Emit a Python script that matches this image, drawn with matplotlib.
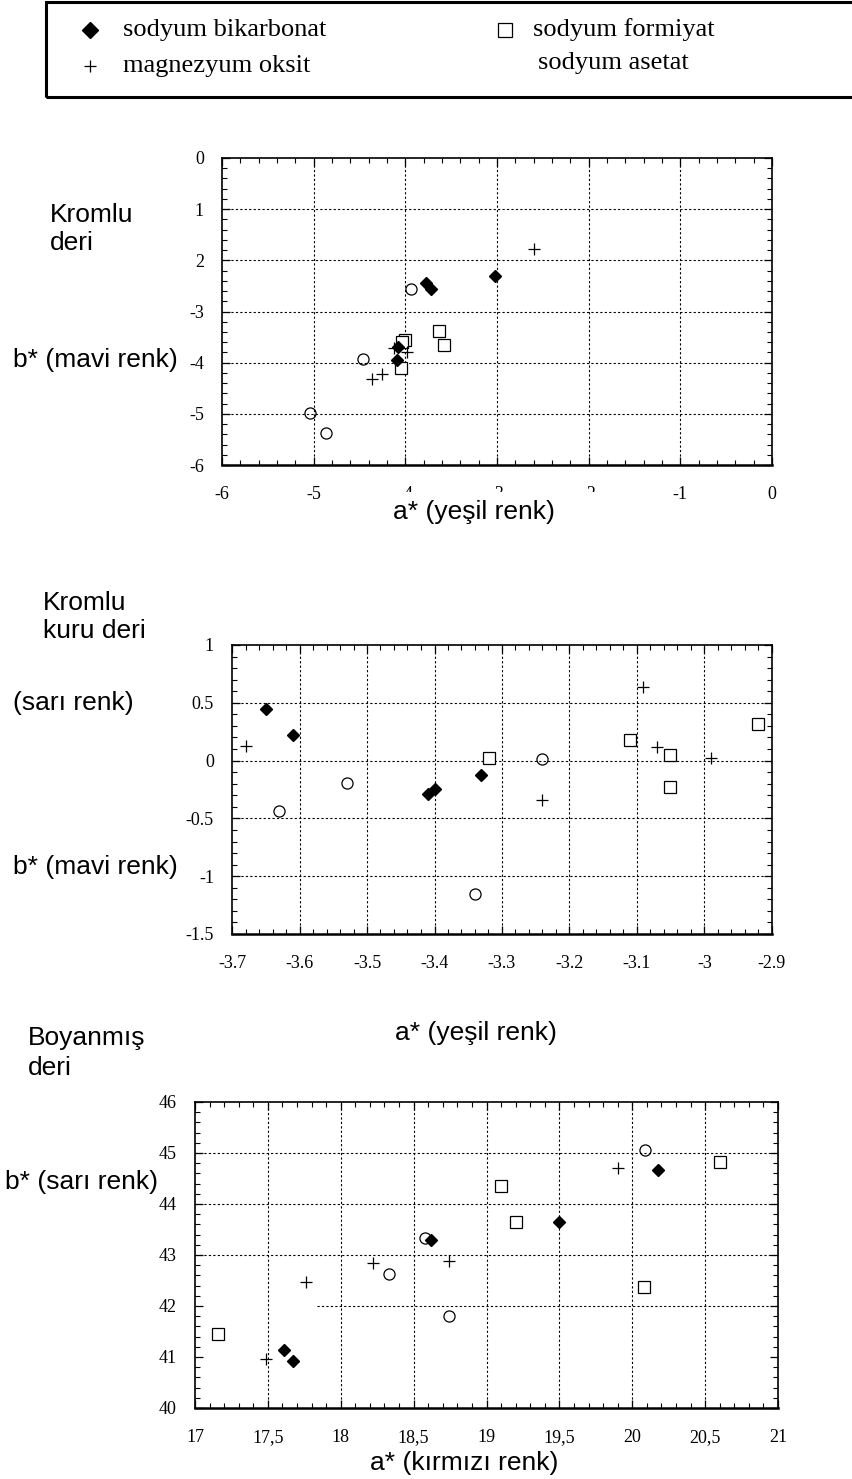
import matplotlib
matplotlib.use("Agg")
import matplotlib.pyplot as plt
from matplotlib.lines import Line2D
from matplotlib.patches import Rectangle
from matplotlib.ticker import FixedLocator, FixedFormatter, MultipleLocator

W, H, DPI = 852, 1479, 100

# ---------------- data ----------------
series_names = ["sodyum bikarbonat", "magnezyum oksit", "sodyum formiyat", "sodyum asetat"]

# Panel 1 : Kromlu deri
p1_bik_a = [-3.77, -3.72, -3.02, -4.08, -4.09]
p1_bik_b = [-2.44, -2.57, -2.31, -3.70, -3.94]
p1_mag_a = [-2.60, -4.12, -3.98, -4.36, -4.25]
p1_mag_b = [-1.77, -3.72, -3.79, -4.31, -4.23]
p1_for_a = [-4.00, -4.04, -3.63, -3.58, -4.05]
p1_for_b = [-3.55, -3.59, -3.39, -3.65, -4.10]
p1_ase_a = [-3.94, -4.46, -5.04, -4.87]
p1_ase_b = [-2.56, -3.92, -4.99, -5.37]
p1_xticks = [-6, -5, -4, -3, -2, -1, 0]
p1_xlabels = ["-6", "-5", "-4", "-3", "-2", "-1", "0"]
p1_yticks = [0, -1, -2, -3, -4, -5, -6]
p1_ylabels = ["0", "1", "2", "-3", "-4", "-5", "-6"]

# Panel 2 : Kromlu kuru deri
p2_bik_a = [-3.650, -3.610, -3.410, -3.400, -3.331]
p2_bik_b = [0.449, 0.220, -0.286, -0.246, -0.126]
p2_mag_a = [-3.680, -3.091, -3.071, -2.991, -3.240]
p2_mag_b = [0.123, 0.638, 0.114, 0.020, -0.340]
p2_for_a = [-3.320, -3.111, -3.051, -3.051, -2.921]
p2_for_b = [0.023, 0.175, 0.046, -0.226, 0.320]
p2_ase_a = [-3.630, -3.530, -3.340, -3.240]
p2_ase_b = [-0.438, -0.197, -1.156, 0.014]
p2_xticks = [-3.7, -3.6, -3.5, -3.4, -3.3, -3.2, -3.1, -3.0, -2.9]
p2_xlabels = ["-3.7", "-3.6", "-3.5", "-3.4", "-3.3", "-3.2", "-3.1", "-3", "-2.9"]
p2_yticks = [1, 0.5, 0, -0.5, -1, -1.5]
p2_ylabels = ["1", "0.5", "0", "-0.5", "-1", "-1.5"]

# Panel 3 : Boyanmis deri
p3_bik_a = [17.61, 17.67, 18.62, 19.50, 20.18]
p3_bik_b = [41.14, 40.93, 43.30, 43.65, 44.66]
p3_mag_a = [17.49, 17.76, 18.22, 18.74, 19.90]
p3_mag_b = [40.97, 42.47, 42.84, 42.88, 44.71]
p3_for_a = [17.16, 19.10, 19.20, 20.08, 20.60]
p3_for_b = [41.46, 44.35, 43.65, 42.37, 44.82]
p3_ase_a = [18.58, 18.33, 18.74, 20.09]
p3_ase_b = [43.33, 42.63, 41.81, 45.05]
p3_xticks = [17, 17.5, 18, 18.5, 19, 19.5, 20, 20.5, 21]
p3_xlabels = ["17", "17,5", "18", "18,5", "19", "19,5", "20", "20,5", "21"]
p3_yticks = [40, 41, 42, 43, 44, 45, 46]
p3_ylabels = ["40", "41", "42", "43", "44", "45", "46"]

# ---------------- styling ----------------
SERIF = "Liberation Serif"
SANS = ["Liberation Sans", "DejaVu Sans"]
TICK_FS = 13
LAB_FS = 19
GRID_KW = dict(color="black", linewidth=0.8, linestyle=(0, (2.0, 2.0)), zorder=1)

MK = {
    "bik": dict(marker="D", markersize=6, markerfacecolor="black", markeredgecolor="black", linestyle="none", zorder=4),
    "mag": dict(marker="+", markersize=9, markeredgecolor="black", markeredgewidth=0.9, linestyle="none", zorder=4),
    "for": dict(marker="s", markersize=8, markerfacecolor="white", markeredgecolor="black", markeredgewidth=0.9, linestyle="none", zorder=3),
    "ase": dict(marker="o", markersize=8, markerfacecolor="none", markeredgecolor="black", markeredgewidth=0.9, linestyle="none", zorder=3),
}

fig = plt.figure(figsize=(W / DPI, H / DPI), dpi=DPI)
fig.patch.set_facecolor("white")


def px_axes(left, top, right, bottom):
    return fig.add_axes([left / W, 1 - bottom / H, (right - left) / W, (bottom - top) / H])


def style(ax, xlim, ylim, xt, xl, yt, yl, xminor, yminor):
    ax.set_xlim(*xlim)
    ax.set_ylim(*ylim)
    ax.xaxis.set_major_locator(FixedLocator(xt))
    ax.xaxis.set_major_formatter(FixedFormatter(xl))
    ax.yaxis.set_major_locator(FixedLocator(yt))
    ax.yaxis.set_major_formatter(FixedFormatter(yl))
    ax.xaxis.set_minor_locator(MultipleLocator(xminor))
    ax.yaxis.set_minor_locator(MultipleLocator(yminor))
    ax.tick_params(which="both", direction="in", top=True, right=True, colors="black",
                   labelsize=TICK_FS, labelfontfamily=SERIF)
    ax.tick_params(which="major", length=6, width=0.9)
    ax.tick_params(which="minor", length=3.5, width=0.8)
    ax.tick_params(axis="x", which="major", pad=15)
    ax.tick_params(axis="y", which="major", pad=13)
    for s in ax.spines.values():
        s.set_linewidth(1.2)
    ax.spines["bottom"].set_linewidth(1.8)


def scatter_all(ax, d):
    ax.plot(d[0], d[1], **MK["bik"])
    ax.plot(d[2], d[3], **MK["mag"])
    ax.plot(d[4], d[5], **MK["for"])
    ax.plot(d[6], d[7], **MK["ase"])


def ftext(x, y, s, **kw):
    kw.setdefault("family", SANS)
    kw.setdefault("fontsize", LAB_FS)
    return fig.text(x / W, 1 - y / H, s, **kw)


# ---------------- panel 1 ----------------
ax1 = px_axes(222, 158, 772, 465)
style(ax1, (-6, 0), (-6, 0), p1_xticks, p1_xlabels, p1_yticks, p1_ylabels, 0.2, 0.2)
for v in p1_xticks[1:-1]:
    ax1.axvline(v, **GRID_KW)
for v in p1_yticks[1:-1]:
    ax1.axhline(v, **GRID_KW)
scatter_all(ax1, [p1_bik_a, p1_bik_b, p1_mag_a, p1_mag_b, p1_for_a, p1_for_b, p1_ase_a, p1_ase_b])

# ---------------- panel 2 ----------------
ax2 = px_axes(232, 645, 772, 934)
style(ax2, (-3.7, -2.9), (-1.5, 1), p2_xticks, p2_xlabels, p2_yticks, p2_ylabels, 0.02, 0.1)
for v in p2_xticks[1:-1]:
    ax2.axvline(v, **GRID_KW)
for v in p2_yticks[1:-1]:
    ax2.axhline(v, **GRID_KW)
scatter_all(ax2, [p2_bik_a, p2_bik_b, p2_mag_a, p2_mag_b, p2_for_a, p2_for_b, p2_ase_a, p2_ase_b])

# ---------------- panel 3 ----------------
ax3 = px_axes(195, 1102, 778, 1408)
style(ax3, (17, 21), (40, 46), p3_xticks, p3_xlabels, p3_yticks, p3_ylabels, 0.1, 0.2)
for v in p3_xticks[1:-1]:
    ax3.axvline(v, **GRID_KW)
for v in [45, 44, 43]:
    ax3.axhline(v, **GRID_KW)
ax3.axhline(42, xmin=0.21, **GRID_KW)
scatter_all(ax3, [p3_bik_a, p3_bik_b, p3_mag_a, p3_mag_b, p3_for_a, p3_for_b, p3_ase_a, p3_ase_b])

# cover over partially hidden tick labels of panel 1 (as in the original)
fig.add_artist(Rectangle((385 / W, 1 - 532 / H), 255 / W, 40 / H, transform=fig.transFigure,
                         facecolor="white", edgecolor="none", zorder=2))

# ---------------- texts ----------------
ftext(50, 222, "Kromlu", va="baseline")
ftext(50, 250, "deri", va="baseline")
ftext(13, 360, "b* (mavi renk)", va="center")
ftext(474, 512, "a* (yeşil renk)", ha="center", va="center", zorder=5)

ftext(43, 610, "Kromlu", va="baseline")
ftext(43, 638, "kuru deri", va="baseline")
ftext(13, 703, "(sarı renk)", va="center")
ftext(13, 867, "b* (mavi renk)", va="center")
ftext(476, 1033, "a* (yeşil renk)", ha="center", va="center")

ftext(28, 1045, "Boyanmış", va="baseline")
ftext(28, 1075, "deri", va="baseline")
ftext(5, 1182, "b* (sarı renk)", va="center")
ftext(464, 1463, "a* (kırmızı renk)", ha="center", va="center")

# ---------------- legend ----------------
fig.add_artist(Rectangle((46 / W, 1 - 97 / H), 1.0, 95 / H, transform=fig.transFigure,
                         facecolor="none", edgecolor="black", linewidth=2.2, zorder=2))
leg_rows = [30, 63]
leg_items = [
    (90, leg_rows[0], dict(marker="D", markersize=8, markerfacecolor="black", markeredgecolor="black"), 123, series_names[0]),
    (90, leg_rows[1] + 3, dict(marker="+", markersize=9, markeredgecolor="black", markeredgewidth=0.9), 123, series_names[1]),
    (505, leg_rows[0], dict(marker="s", markersize=9.5, markerfacecolor="white", markeredgecolor="black", markeredgewidth=0.9), 533, series_names[2]),
    (None, leg_rows[1], None, 538, series_names[3]),
]
for mx, my, mkw, tx, label in leg_items:
    if mx is not None:
        fig.add_artist(Line2D([mx / W], [1 - my / H], transform=fig.transFigure, linestyle="none", zorder=3, **mkw))
    fig.text(tx / W, 1 - my / H, label, family=SERIF, fontsize=19, va="center", ha="left")

fig.savefig("out.png", dpi=DPI, facecolor="white")
